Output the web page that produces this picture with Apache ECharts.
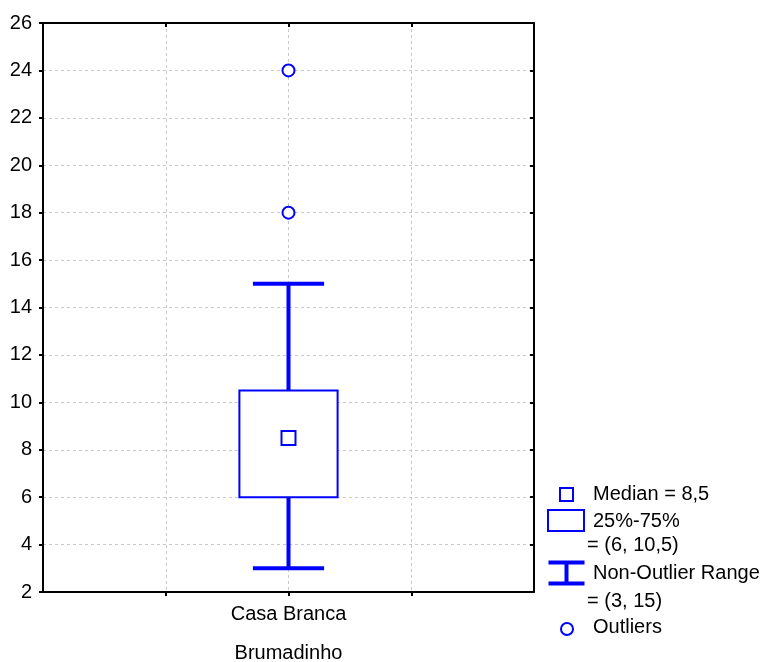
<!DOCTYPE html>
<html>
<head>
<meta charset="utf-8">
<script src="https://cdn.jsdelivr.net/npm/echarts@6/dist/echarts.min.js"></script>
<style>
html, body { margin: 0; padding: 0; background: #fff; }
#chart { width: 761px; height: 662px; }
</style>
</head>
<body>
<div id="chart"></div>
<script>
// data
const categories = ['Casa Branca']
const groupName = 'Brumadinho'
const medians = [8.5]
const q1s = [6]
const q3s = [10.5]
const lowWhiskers = [3]
const highWhiskers = [15]
const outliers = [[18, 24]]
const yMin = 2
const yMax = 26
const yStep = 2

const BLUE = '#0000ff'
const FONT = 'Liberation Sans, Arial, sans-serif'
const FS = 20

// each category sits in the middle of a 0..4 value axis (grid lines at 1, 2, 3)
const xPos = categories.map((c, i) => 2 * (i + 1))

const boxData = categories.map((c, i) => [xPos[i], lowWhiskers[i], q1s[i], medians[i], q3s[i], highWhiskers[i]])
const outlierData = []
outliers.forEach((list, i) => list.forEach((v) => outlierData.push([xPos[i], v])))

const fmt = (v) => String(v).replace('.', ',')

const chart = echarts.init(document.getElementById('chart'))

const label = (text, x, y) => ({
  type: 'text',
  left: x,
  top: y,
  style: { text: text, font: FS + 'px ' + FONT, fill: '#000' },
})

const legend = [
  { type: 'rect', left: 559, top: 487, shape: { width: 13, height: 13 }, style: { fill: '#fff', stroke: BLUE, lineWidth: 2 } },
  label('Median = ' + fmt(medians[0]), 593, 484),
  { type: 'rect', left: 547, top: 509, shape: { width: 36, height: 21 }, style: { fill: '#fff', stroke: BLUE, lineWidth: 2 } },
  label('25%-75%', 593, 511),
  label('= (' + fmt(q1s[0]) + ', ' + fmt(q3s[0]) + ')', 587, 535),
  {
    type: 'group', left: 546, top: 560,
    children: [
      { type: 'line', shape: { x1: 0, y1: 2, x2: 36, y2: 2 }, style: { stroke: BLUE, lineWidth: 4 } },
      { type: 'line', shape: { x1: 0, y1: 23, x2: 36, y2: 23 }, style: { stroke: BLUE, lineWidth: 4 } },
      { type: 'line', shape: { x1: 18, y1: 2, x2: 18, y2: 23 }, style: { stroke: BLUE, lineWidth: 4 } },
    ],
  },
  label('Non-Outlier Range', 593, 563),
  label('= (' + fmt(lowWhiskers[0]) + ', ' + fmt(highWhiskers[0]) + ')', 587, 591),
  { type: 'circle', left: 560, top: 622, shape: { r: 6 }, style: { fill: '#fff', stroke: BLUE, lineWidth: 2 } },
  label('Outliers', 593, 617),
]

const gridLine = {
  show: true,
  showMinLine: false,
  showMaxLine: false,
  lineStyle: { color: '#c8c8c8', width: 1, type: [3, 3] },
}
const frameLine = { show: true, onZero: false, lineStyle: { color: '#000', width: 2 } }

const option = {
  backgroundColor: '#fff',
  animation: false,
  textStyle: { fontFamily: FONT },
  grid: {
    left: 43,
    top: 23,
    width: 491,
    height: 569,
    show: false,
    containLabel: false,
    outerBoundsMode: 'none',
  },
  xAxis: [
    {
      type: 'value',
      min: 0,
      max: 4,
      interval: 1,
      name: groupName,
      nameLocation: 'middle',
      nameGap: 51,
      nameTextStyle: { color: '#000', fontSize: FS, fontFamily: FONT },
      axisLine: frameLine,
      axisTick: { show: true, length: 4, lineStyle: { color: '#000', width: 2 } },
      axisLabel: {
        color: '#000',
        fontSize: FS,
        fontFamily: FONT,
        margin: 12,
        showMinLabel: false,
        showMaxLabel: false,
        formatter: (v) => {
          const i = xPos.indexOf(v)
          return i >= 0 ? categories[i] : ''
        },
      },
      splitLine: gridLine,
    },
    {
      type: 'value',
      position: 'top',
      min: 0,
      max: 4,
      interval: 1,
      axisLine: frameLine,
      axisTick: { show: true, inside: true, length: 4, lineStyle: { color: '#000', width: 2 } },
      axisLabel: { show: false },
      splitLine: { show: false },
    },
  ],
  yAxis: [
    {
      type: 'value',
      min: yMin,
      max: yMax,
      interval: yStep,
      axisLine: frameLine,
      axisTick: { show: true, length: 4, lineStyle: { color: '#000', width: 2 } },
      axisLabel: { color: '#000', fontSize: FS, fontFamily: FONT, margin: 11 },
      splitLine: gridLine,
    },
    {
      type: 'value',
      position: 'right',
      min: yMin,
      max: yMax,
      interval: yStep,
      axisLine: frameLine,
      axisTick: { show: true, inside: true, length: 4, lineStyle: { color: '#000', width: 2 } },
      axisLabel: { show: false },
      splitLine: { show: false },
    },
  ],
  series: [
    {
      type: 'custom',
      data: boxData,
      encode: { x: 0, y: [1, 2, 3, 4, 5] },
      renderItem: (params, api) => {
        const x = api.value(0)
        const low = api.coord([x, api.value(1)])
        const q1 = api.coord([x, api.value(2)])
        const med = api.coord([x, api.value(3)])
        const q3 = api.coord([x, api.value(4)])
        const high = api.coord([x, api.value(5)])
        const boxHalf = api.size([0.4, 0])[0]
        const capHalf = api.size([0.29, 0])[0]
        const cx = med[0]
        const thick = { stroke: BLUE, lineWidth: 4 }
        return {
          type: 'group',
          children: [
            { type: 'line', shape: { x1: cx, y1: high[1], x2: cx, y2: q3[1] }, style: thick },
            { type: 'line', shape: { x1: cx, y1: q1[1], x2: cx, y2: low[1] }, style: thick },
            { type: 'line', shape: { x1: cx - capHalf, y1: high[1], x2: cx + capHalf, y2: high[1] }, style: thick },
            { type: 'line', shape: { x1: cx - capHalf, y1: low[1], x2: cx + capHalf, y2: low[1] }, style: thick },
            {
              type: 'rect',
              shape: { x: cx - boxHalf, y: q3[1], width: boxHalf * 2, height: q1[1] - q3[1] },
              style: { fill: '#fff', stroke: BLUE, lineWidth: 2 },
            },
            {
              type: 'rect',
              shape: { x: cx - 7, y: med[1] - 7, width: 14, height: 14 },
              style: { fill: '#fff', stroke: BLUE, lineWidth: 2 },
            },
          ],
        }
      },
    },
    {
      type: 'scatter',
      data: outlierData,
      symbol: 'circle',
      symbolSize: 12,
      itemStyle: { color: '#fff', borderColor: BLUE, borderWidth: 2, opacity: 1 },
    },
  ],
  graphic: legend,
}

chart.setOption(option)
</script>
</body>
</html>
